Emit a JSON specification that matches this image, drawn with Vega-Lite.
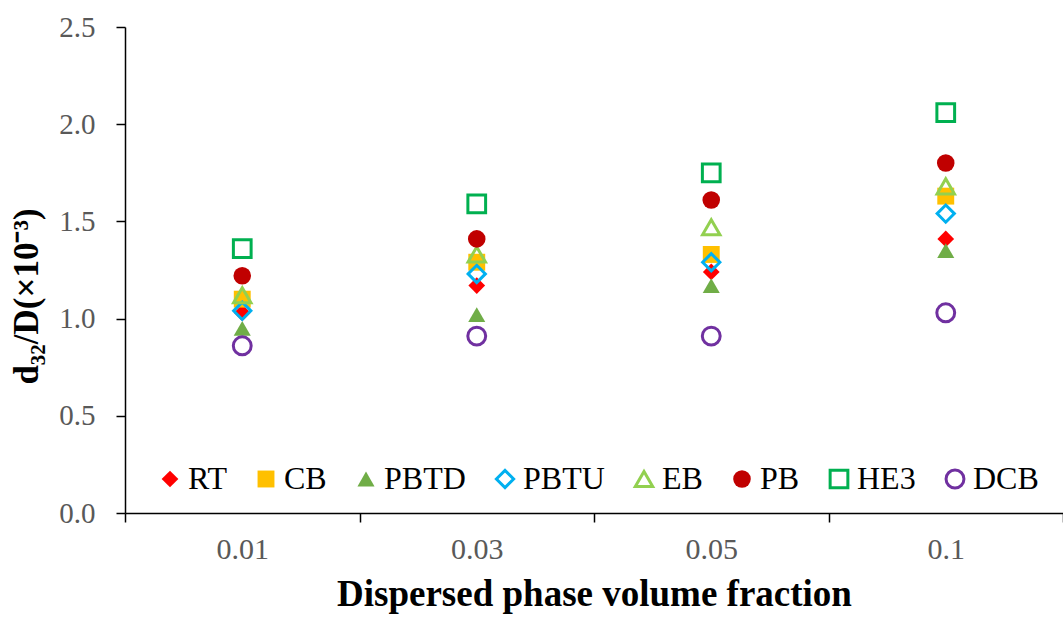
{
  "$schema": "https://vega.github.io/schema/vega-lite/v6.json",
  "width": 938,
  "height": 486,
  "autosize": {"type": "none"},
  "padding": {"left": 125, "top": 27, "right": 0, "bottom": 108},
  "background": "white",
  "config": {
    "view": {"stroke": null},
    "font": "Liberation Serif",
    "axis": {"grid": false, "domainColor": "#000000", "tickColor": "#000000", "labelColor": "#595959", "titleColor": "#000000", "labelFont": "Liberation Serif", "titleFont": "Liberation Serif", "domainWidth": 1.5, "tickWidth": 1.5, "tickSize": 9},
    "legend": {"orient": "none", "legendX": 29, "legendY": 436, "direction": "horizontal", "labelFontSize": 32, "labelFont": "Liberation Serif", "labelColor": "#000000", "symbolStrokeWidth": 3, "columnPadding": 23, "labelOffset": 2}
  },
  "data": {
    "values": [
      {"fraction": "0.01", "series": "RT", "value": 1.03},
      {"fraction": "0.03", "series": "RT", "value": 1.17},
      {"fraction": "0.05", "series": "RT", "value": 1.24},
      {"fraction": "0.1", "series": "RT", "value": 1.41},
      {"fraction": "0.01", "series": "CB", "value": 1.10},
      {"fraction": "0.03", "series": "CB", "value": 1.29},
      {"fraction": "0.05", "series": "CB", "value": 1.33},
      {"fraction": "0.1", "series": "CB", "value": 1.63},
      {"fraction": "0.01", "series": "PBTD", "value": 0.95},
      {"fraction": "0.03", "series": "PBTD", "value": 1.02},
      {"fraction": "0.05", "series": "PBTD", "value": 1.17},
      {"fraction": "0.1", "series": "PBTD", "value": 1.35},
      {"fraction": "0.01", "series": "PBTU", "value": 1.04},
      {"fraction": "0.03", "series": "PBTU", "value": 1.23},
      {"fraction": "0.05", "series": "PBTU", "value": 1.29},
      {"fraction": "0.1", "series": "PBTU", "value": 1.54},
      {"fraction": "0.01", "series": "EB", "value": 1.12},
      {"fraction": "0.03", "series": "EB", "value": 1.33},
      {"fraction": "0.05", "series": "EB", "value": 1.47},
      {"fraction": "0.1", "series": "EB", "value": 1.68},
      {"fraction": "0.01", "series": "PB", "value": 1.22},
      {"fraction": "0.03", "series": "PB", "value": 1.41},
      {"fraction": "0.05", "series": "PB", "value": 1.61},
      {"fraction": "0.1", "series": "PB", "value": 1.80},
      {"fraction": "0.01", "series": "HE3", "value": 1.36},
      {"fraction": "0.03", "series": "HE3", "value": 1.59},
      {"fraction": "0.05", "series": "HE3", "value": 1.75},
      {"fraction": "0.1", "series": "HE3", "value": 2.06},
      {"fraction": "0.01", "series": "DCB", "value": 0.86},
      {"fraction": "0.03", "series": "DCB", "value": 0.91},
      {"fraction": "0.05", "series": "DCB", "value": 0.91},
      {"fraction": "0.1", "series": "DCB", "value": 1.03}
    ]
  },
  "mark": {"type": "point", "strokeWidth": 3, "opacity": 1},
  "encoding": {
    "x": {
      "field": "fraction", "type": "ordinal", "sort": ["0.01", "0.03", "0.05", "0.1"],
      "scale": {"paddingInner": 0, "paddingOuter": 0},
      "axis": {"title": "Dispersed phase volume fraction", "titleFontSize": 37, "titleFontWeight": "bold", "titlePadding": 12, "labelFontSize": 30, "labelAngle": 0, "labelPadding": 12, "tickBand": "extent"}
    },
    "y": {
      "field": "value", "type": "quantitative",
      "scale": {"domain": [0, 2.5], "nice": false, "zero": true},
      "axis": {"title": "d₃₂/D(×10⁻³)", "titleFontSize": 35, "titleFontWeight": "bold", "titlePadding": 14, "titleY": 269, "labelFontSize": 29, "values": [0, 0.5, 1, 1.5, 2, 2.5], "format": ".1f", "labelPadding": 21}
    },
    "shape": {
      "field": "series", "type": "nominal", "title": null,
      "scale": {"domain": ["RT", "CB", "PBTD", "PBTU", "EB", "PB", "HE3", "DCB"], "range": ["diamond", "square", "triangle-up", "diamond", "triangle-up", "circle", "square", "circle"]}
    },
    "fill": {
      "field": "series", "type": "nominal", "title": null,
      "scale": {"domain": ["RT", "CB", "PBTD", "PBTU", "EB", "PB", "HE3", "DCB"], "range": ["#FF0000", "#FFC000", "#70AD47", "transparent", "transparent", "#C00000", "transparent", "transparent"]}
    },
    "stroke": {
      "field": "series", "type": "nominal", "title": null,
      "scale": {"domain": ["RT", "CB", "PBTD", "PBTU", "EB", "PB", "HE3", "DCB"], "range": ["transparent", "transparent", "transparent", "#00B0F0", "#92D050", "transparent", "#00B050", "#7030A0"]}
    },
    "size": {
      "field": "series", "type": "nominal", "title": null,
      "scale": {"domain": ["RT", "CB", "PBTD", "PBTU", "EB", "PB", "HE3", "DCB"], "range": [280, 320, 360, 250, 200, 360, 200, 220]}
    }
  }
}
